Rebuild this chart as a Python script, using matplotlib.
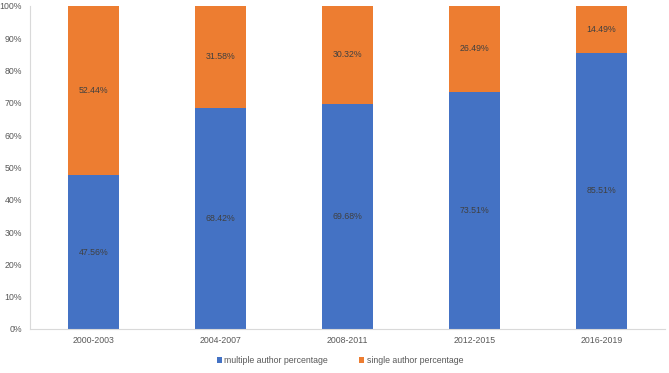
from matplotlib import pyplot as plt
import numpy as np

plt.rcParams['font.family'] = ['Liberation Sans', 'DejaVu Sans']

periods = ["2000-2003", "2004-2007", "2008-2011", "2012-2015", "2016-2019"]
multiple = [47.56, 68.42, 69.68, 73.51, 85.51]
single = [52.44, 31.58, 30.32, 26.49, 14.49]

blue = "#4472C4"
orange = "#ED7D31"
text_color = "#404040"

fig = plt.figure(figsize=(6.69, 3.73), dpi=100)
ax = fig.add_axes([0.045, 0.118, 0.949, 0.866])

x = np.arange(len(periods))
ax.bar(x, multiple, width=0.4, color=blue, label="multiple author percentage")
ax.bar(x, single, width=0.4, bottom=multiple, color=orange, label="single author percentage")

for i in range(len(periods)):
    ax.text(x[i], multiple[i] / 2, f"{multiple[i]:.2f}%", ha="center", va="center",
            fontsize=6.3, color=text_color)
    ax.text(x[i], multiple[i] + single[i] / 2, f"{single[i]:.2f}%", ha="center", va="center",
            fontsize=6.3, color=text_color)

ax.set_xlim(-0.5, len(periods) - 0.5)
ax.set_ylim(0, 100)
ax.set_yticks(np.arange(0, 101, 10))
ax.set_yticklabels([f"{v}%" for v in range(0, 101, 10)])
ax.set_xticks(x)
ax.set_xticklabels(periods)
ax.tick_params(axis="both", length=0, labelsize=6.3, labelcolor="#595959")
ax.tick_params(axis="y", pad=6)
ax.tick_params(axis="x", pad=5)

for side in ["top", "right"]:
    ax.spines[side].set_visible(False)
for side in ["left", "bottom"]:
    ax.spines[side].set_color("#D9D9D9")
    ax.spines[side].set_linewidth(0.8)

fig.legend(loc="lower center", bbox_to_anchor=(0.508, 0.0), ncol=2, frameon=False,
           fontsize=6.3, labelcolor="#595959", handlelength=0.6, handleheight=0.6,
           handletextpad=0.3, columnspacing=3.5)

plt.savefig("out.png", dpi=100)
plt.close()
